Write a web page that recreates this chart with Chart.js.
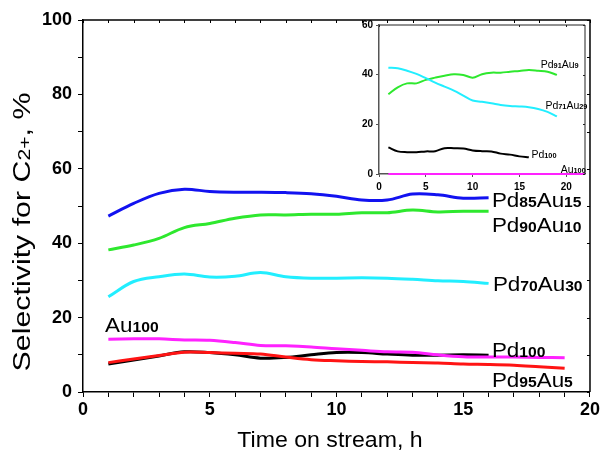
<!DOCTYPE html>
<html>
<head>
<meta charset="utf-8">
<script src="https://cdn.jsdelivr.net/npm/chart.js@4.4.1/dist/chart.umd.min.js"></script>
<style>
    html, body { margin: 0; padding: 0; background: #fff; }
    #wrap { position: relative; width: 602px; height: 452px; }
    #mainChart { position: absolute; left: 0; top: 0; }
    #insetChart { position: absolute; left: 350px; top: 15px; }
</style>
</head>
<body>
<div id="wrap">
    <canvas id="mainChart" width="602" height="452"></canvas>
    <canvas id="insetChart" width="252" height="185"></canvas>
</div>
<script>
// time on stream, h
const hoursShort = [1, 2, 3, 4, 5, 6, 7, 8, 9, 10, 11, 12, 13, 14, 15, 16];
const hoursLong = [1, 2, 3, 4, 5, 6, 7, 8, 9, 10, 11, 12, 13, 14, 15, 16, 17, 18, 19];

// selectivity for C2+, % (main plot)
const pd85au15 = [47.3, 50.7, 53.4, 54.5, 53.9, 53.7, 53.7, 53.6, 53.3, 52.6, 51.6, 51.6, 53.2, 53.0, 52.1, 52.2];
const pd90au10 = [38.2, 39.5, 41.3, 44.2, 45.3, 46.7, 47.6, 47.6, 47.8, 47.8, 48.2, 48.2, 48.9, 48.4, 48.6, 48.6];
const pd70au30 = [25.6, 29.7, 31.0, 31.7, 30.9, 31.1, 32.1, 31.0, 30.6, 30.6, 30.7, 30.6, 30.3, 29.9, 29.7, 29.2];
const au100 = [14.2, 14.3, 14.3, 14.0, 13.9, 13.3, 12.5, 12.4, 12.1, 11.6, 11.2, 10.8, 10.7, 10.0, 9.5, 9.4, 9.4, 9.3, 9.2];
const pd100 = [7.5, 8.6, 9.7, 10.8, 10.6, 10.0, 9.1, 9.3, 10.0, 10.6, 10.6, 10.2, 9.9, 9.9, 10.0, 9.9];
const pd95au5 = [7.9, 8.9, 9.8, 10.7, 10.6, 10.4, 10.2, 9.4, 8.7, 8.4, 8.2, 8.1, 7.9, 7.8, 7.5, 7.4, 7.2, 6.8, 6.4];

// inset plot
const insetHoursAu = [1, 22];
const insetPd91au9 = [32.1, 34.9, 36.5, 36.5, 37.9, 38.8, 39.6, 40.2, 39.9, 38.8, 40.2, 40.8, 40.8, 41.2, 41.5, 41.9, 41.6, 41.2, 39.9];
const insetPd71au29 = [42.8, 42.6, 41.6, 40.3, 38.6, 36.8, 35.2, 33.6, 31.6, 29.6, 29.1, 28.5, 27.8, 27.4, 27.2, 26.9, 26.2, 25.0, 23.2];
const insetPd100 = [10.7, 9.1, 8.8, 8.8, 9.1, 9.2, 10.4, 10.4, 10.3, 9.5, 9.2, 9.1, 8.2, 7.8, 7.1, 6.7];
const insetAu100 = [0, 0];

// axis ticks
const mainXTicks = [0, 5, 10, 15, 20];
const mainYTicks = [0, 20, 40, 60, 80, 100];
const insetXTicks = [0, 5, 10, 15, 20];
const insetYTicks = [0, 20, 40, 60];

const FONT = '"Liberation Sans", Arial, Helvetica, sans-serif';

const COLORS = {
    blue: '#1212f0',
    green: '#2ee82e',
    cyan: '#22eeff',
    magenta: '#ff22ff',
    black: '#000000',
    red: '#ff1414'
};

// series names placed next to the curves, in data units
const mainTags = [
    { text: 'Pd85Au15', x: 16.13, y: 49.7 },
    { text: 'Pd90Au10', x: 16.13, y: 43.0 },
    { text: 'Pd70Au30', x: 16.17, y: 27.2 },
    { text: 'Au100', x: 0.87, y: 16.1 },
    { text: 'Pd100', x: 16.13, y: 9.4 },
    { text: 'Pd95Au5', x: 16.13, y: 1.3 }
];

const insetTags = [
    { text: 'Pd91Au9', x: 17.27, y: 42.6 },
    { text: 'Pd71Au29', x: 17.77, y: 26.1 },
    { text: 'Pd100', x: 16.28, y: 6.4 },
    { text: 'Au100', x: 19.4, y: 0.6 }
];


function toPoints(xs, ys) {
    return ys.map((y, i) => ({ x: xs[i], y: y }));
}

function series(xs, ys, color, width) {
    return {
        data: toPoints(xs, ys),
        borderColor: color,
        backgroundColor: color,
        borderWidth: width,
        pointRadius: 0,
        tension: 0.35,
        fill: false,
        clip: false
    };
}

// letters in the big font, digits smaller and bold, sharing one baseline
function drawFormula(ctx, text, x, y, bigFont, smallFont, stretch) {
    const parts = text.match(/[A-Za-z]+|[0-9]+/g);
    ctx.save();
    ctx.translate(x, y);
    ctx.scale(stretch, 1);
    ctx.fillStyle = '#000';
    ctx.textAlign = 'left';
    ctx.textBaseline = 'alphabetic';
    let cx = 0;
    parts.forEach(p => {
        ctx.font = /\d/.test(p) ? smallFont : bigFont;
        ctx.fillText(p, cx, 0);
        cx += ctx.measureText(p).width;
    });
    ctx.restore();
}

function drawRun(ctx, runs) {
    let cx = 0;
    runs.forEach(r => {
        ctx.font = r.font;
        ctx.fillText(r.text, cx, 0);
        cx += ctx.measureText(r.text).width;
    });
    return cx;
}

// top and right sides of the box, with short inward ticks
function framePlugin(color, width, tickLen) {
    return {
        id: 'frame',
        afterDraw(chart) {
            const { ctx, chartArea: a, scales } = chart;
            ctx.save();
            ctx.strokeStyle = color;
            ctx.lineWidth = width;
            ctx.beginPath();
            ctx.moveTo(a.left, a.top);
            ctx.lineTo(a.right, a.top);
            ctx.lineTo(a.right, a.bottom);
            ctx.stroke();

            ctx.lineWidth = 1;
            ctx.beginPath();
            scales.x.ticks.forEach(t => {
                const px = Math.round(scales.x.getPixelForValue(t.value)) + 0.5;
                ctx.moveTo(px, a.top);
                ctx.lineTo(px, a.top + tickLen);
            });
            scales.y.ticks.forEach(t => {
                const py = Math.round(scales.y.getPixelForValue(t.value)) + 0.5;
                ctx.moveTo(a.right, py);
                ctx.lineTo(a.right - tickLen, py);
            });
            ctx.stroke();
            ctx.restore();
        }
    };
}

function tagPlugin(tags, bigFont, smallFont, stretch) {
    return {
        id: 'tags',
        afterDraw(chart) {
            const { ctx, scales } = chart;
            tags.forEach(t => {
                drawFormula(ctx, t.text,
                    scales.x.getPixelForValue(t.x),
                    scales.y.getPixelForValue(t.y),
                    bigFont, smallFont, stretch);
            });
        }
    };
}

const axisTitles = {
    id: 'axisTitles',
    afterDraw(chart) {
        const { ctx } = chart;

        // x title
        ctx.save();
        ctx.fillStyle = '#000';
        ctx.textBaseline = 'alphabetic';
        ctx.font = '22px ' + FONT;
        const xt = 'Time on stream, h';
        const w = ctx.measureText(xt).width * 1.05;
        ctx.translate(330 - w / 2, 447);
        ctx.scale(1.05, 1);
        ctx.fillText(xt, 0, 0);
        ctx.restore();

        // y title, rotated, with C2+ subscript
        const runs = [
            { text: 'Selectivity for C', font: '23px ' + FONT },
            { text: '2+', font: '16px ' + FONT },
            { text: ', %', font: '23px ' + FONT }
        ];
        ctx.save();
        ctx.fillStyle = '#000';
        ctx.textBaseline = 'alphabetic';
        let total = 0;
        runs.forEach(r => { ctx.font = r.font; total += ctx.measureText(r.text).width; });
        const stretch = 1.32;
        ctx.translate(30, 232 + total * stretch / 2);
        ctx.rotate(-Math.PI / 2);
        ctx.scale(stretch, 1);
        drawRun(ctx, runs);
        ctx.restore();
    }
};

function linearAxis(min, max, step, labelled, font, tickLen, pad, borderColor, borderWidth) {
    return {
        type: 'linear',
        min: min,
        max: max,
        ticks: {
            stepSize: step,
            autoSkip: false,
            maxRotation: 0,
            includeBounds: false,
            padding: pad,
            color: '#000',
            font: font,
            callback: v => labelled.includes(v) ? String(v) : ''
        },
        grid: {
            drawOnChartArea: false,
            drawTicks: true,
            tickLength: tickLen,
            tickColor: borderColor,
            tickWidth: 1
        },
        border: { display: true, color: borderColor, width: borderWidth }
    };
}


const mainX = linearAxis(0, 20, 1, mainXTicks, { family: FONT, size: 18, weight: 'bold' }, 5, 2, '#000', 1.5);
mainX.afterFit = s => { s.height = 60; };
const mainY = linearAxis(0, 100, 10, mainYTicks, { family: FONT, size: 18, weight: 'bold' }, 5, 6, '#000', 1.5);
mainY.afterFit = s => { s.width = 83; };

new Chart(document.getElementById('mainChart'), {
    type: 'line',
    data: {
        datasets: [
            series(hoursLong, pd95au5, COLORS.red, 3),
            series(hoursLong, au100, COLORS.magenta, 3),
            series(hoursShort, pd100, COLORS.black, 3),
            series(hoursShort, pd70au30, COLORS.cyan, 3),
            series(hoursShort, pd90au10, COLORS.green, 3),
            series(hoursShort, pd85au15, COLORS.blue, 3)
        ]
    },
    options: {
        responsive: false,
        animation: false,
        layout: { padding: { left: 0, right: 12, top: 20, bottom: 0 } },
        plugins: {
            legend: { display: false },
            tooltip: { enabled: false }
        },
        scales: { x: mainX, y: mainY }
    },
    plugins: [
        framePlugin('#000', 1.5, 3),
        tagPlugin(mainTags, '20px ' + FONT, 'bold 14px ' + FONT, 1.12),
        axisTitles
    ]
});


const insetX = linearAxis(0, 22, 5, insetXTicks, { family: FONT, size: 10, weight: 'bold' }, 3, 4, '#555', 1.5);
insetX.afterFit = s => { s.height = 26; };
const insetY = linearAxis(0, 60, 20, insetYTicks, { family: FONT, size: 10, weight: 'bold' }, 3, 3, '#555', 1.5);
insetY.afterFit = s => { s.width = 29; };

new Chart(document.getElementById('insetChart'), {
    type: 'line',
    data: {
        datasets: [
            series(insetHoursAu, insetAu100, COLORS.magenta, 2),
            series(hoursShort, insetPd100, COLORS.black, 2),
            series(hoursLong, insetPd71au29, COLORS.cyan, 2),
            series(hoursLong, insetPd91au9, COLORS.green, 2)
        ]
    },
    options: {
        responsive: false,
        animation: false,
        layout: { padding: { left: 0, right: 17, top: 10, bottom: 0 } },
        plugins: {
            legend: { display: false },
            tooltip: { enabled: false }
        },
        scales: { x: insetX, y: insetY }
    },
    plugins: [
        framePlugin('#222', 1, 2),
        tagPlugin(insetTags, '10px ' + FONT, 'bold 7px ' + FONT, 1.05)
    ]
});
</script>
</body>
</html>
